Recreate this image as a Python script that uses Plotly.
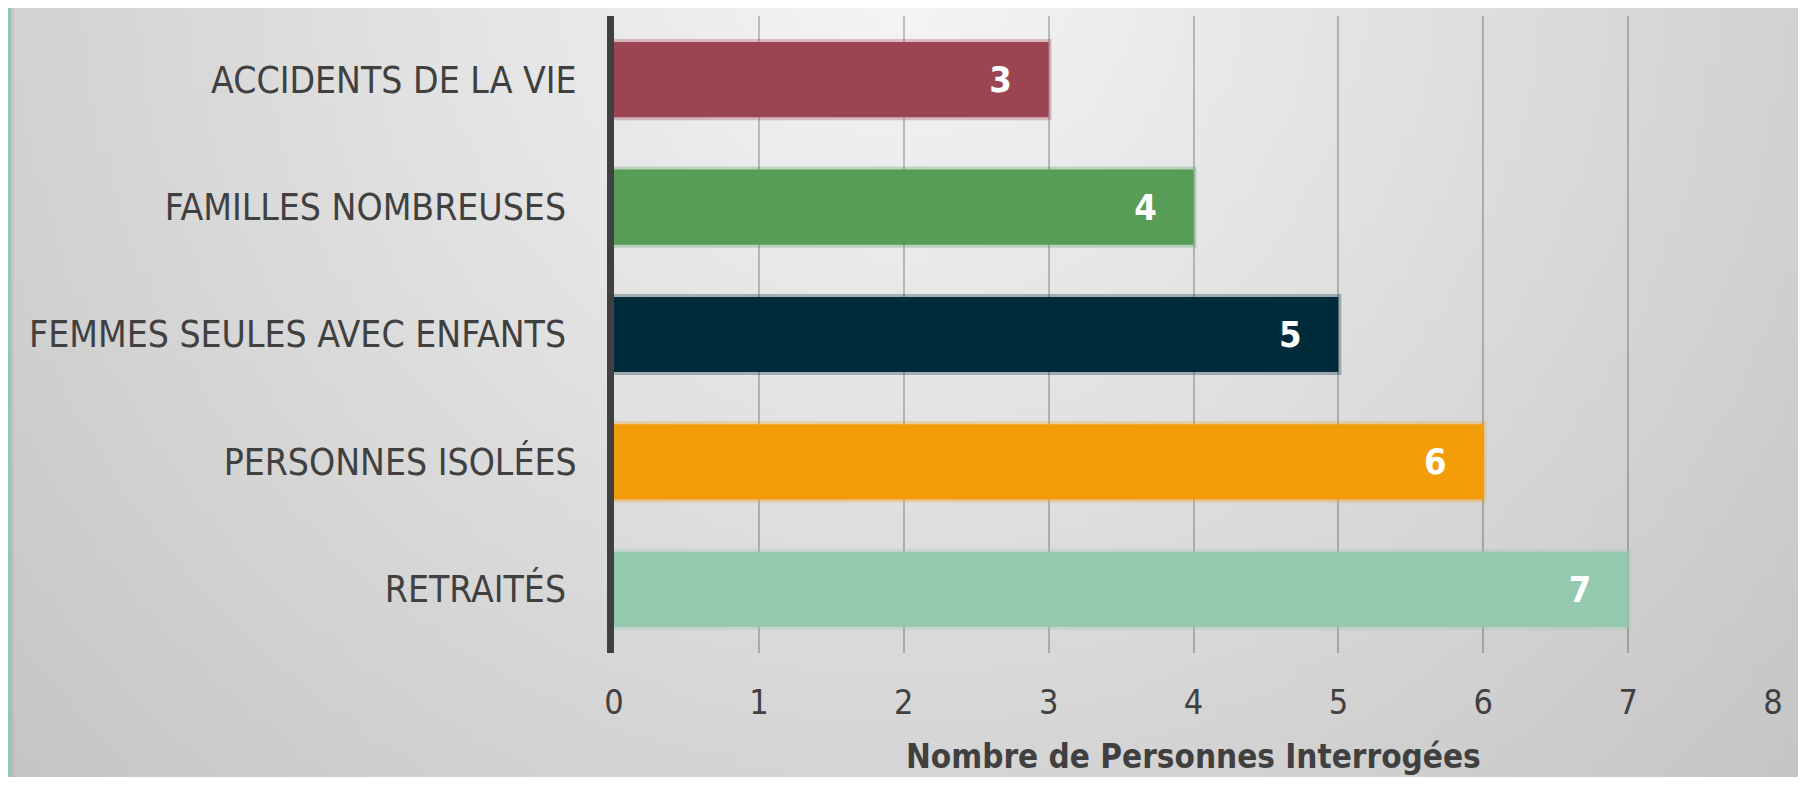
import base64
import math
import struct
import zlib

import plotly.graph_objects as go

# ===== DATA =====
categories = ["ACCIDENTS DE LA VIE", "FAMILLES NOMBREUSES ", "FEMMES SEULES AVEC ENFANTS ",
              "PERSONNES ISOLÉES", "RETRAITÉS "]
values = [3, 4, 5, 6, 7]
bar_colors = ["#9C4452", "#579D57", "#002B3A", "#F39D0B", "#94C9AF"]
x_ticks = [0, 1, 2, 3, 4, 5, 6, 7, 8]
x_title = "Nombre de Personnes Interrogées"

# page has an 8px body margin, so the figure is a bit smaller than the window
PAGE_W, PAGE_H = 1806, 785
OFF = 8
W, H = PAGE_W - 2 * OFF, PAGE_H - 2 * OFF
margin = dict(l=606, r=25, t=8, b=124)
pw = W - margin["l"] - margin["r"]
ph = H - margin["t"] - margin["b"]

font_family = "DejaVu Sans Condensed, Liberation Sans Narrow, Roboto, sans-serif"
text_col = "#404040"


def hex_rgba(hx, a):
    hx = hx.lstrip("#")
    return "rgba(%d,%d,%d,%s)" % (int(hx[0:2], 16), int(hx[2:4], 16), int(hx[4:6], 16), a)


# ===== BACKGROUND GRADIENT (small grey png, stretched) =====
def make_png(w, h, pix):
    raw = b"".join(b"\x00" + bytes(r) for r in pix)

    def chunk(tag, data):
        c = struct.pack(">I", len(data)) + tag + data
        return c + struct.pack(">I", zlib.crc32(tag + data) & 0xffffffff)
    return (b"\x89PNG\r\n\x1a\n" + chunk(b"IHDR", struct.pack(">IIBBBBB", w, h, 8, 0, 0, 0, 0))
            + chunk(b"IDAT", zlib.compress(raw)) + chunk(b"IEND", b""))


gw, gh = 180, 78
pix = []
for j in range(gh):
    row = []
    for i in range(gw):
        px, py = OFF + i * W / (gw - 1), OFF + j * H / (gh - 1)
        d = math.hypot(px - 900, py + 40)
        row.append(int(max(196, min(246, 246 - 0.04 * d))))
    pix.append(row)
bg_src = "data:image/png;base64," + base64.b64encode(make_png(gw, gh, pix)).decode()

# ===== FIGURE =====
fig = go.Figure(go.Bar(
    x=values, y=categories, orientation="h",
    marker=dict(color=bar_colors, line=dict(color=[hex_rgba(c, 0.3) for c in bar_colors], width=6)),
    text=values, texttemplate="%{x}\u00a0\u00a0\u00a0", textposition="inside", insidetextanchor="end",
    textfont=dict(family=font_family, size=36, color="white", weight="bold"),
    cliponaxis=False,
))

x_left = -margin["l"] / pw
y_bot, y_top = -margin["b"] / ph, 1 + margin["t"] / ph

fig.update_layout(
    width=W, height=H, margin=margin,
    paper_bgcolor="#DCDCDC", plot_bgcolor="rgba(0,0,0,0)",
    bargap=0.41, showlegend=False,
    font=dict(family=font_family, color=text_col),
    images=[dict(source=bg_src, xref="paper", yref="paper",
                 x=x_left, y=y_top, sizex=W / pw, sizey=H / ph, sizing="stretch", layer="below")],
    shapes=[
        # green strip on the left edge
        dict(type="rect", xref="paper", yref="paper", layer="above",
             x0=x_left, x1=x_left + 3 / pw, y0=y_bot, y1=y_top,
             fillcolor="#94C9AF", line=dict(width=0)),
        dict(type="rect", xref="paper", yref="paper", layer="above",
             x0=x_left + 3 / pw, x1=x_left + 6 / pw, y0=y_bot, y1=y_top,
             fillcolor="rgba(0,0,0,0.05)", line=dict(width=0)),
    ],
    # x axis title as an annotation, so it can sit lower than plotly puts it
    annotations=[dict(text=x_title, xref="paper", yref="paper", x=0.5, y=-103 / ph,
                      xanchor="center", yanchor="middle", showarrow=False,
                      font=dict(size=33, color=text_col, weight="bold"))],
)

fig.update_xaxes(
    range=[0, 8], tickvals=x_ticks, showgrid=True, gridcolor="rgba(0,0,0,0.22)", gridwidth=2,
    zeroline=False, showline=False, ticks="", ticklabelstandoff=26,
    tickfont=dict(size=34, color=text_col),
    automargin=False,
)
fig.update_yaxes(
    categoryorder="array", categoryarray=categories, autorange="reversed",
    showgrid=False, zeroline=False, showline=True, linecolor=text_col, linewidth=7,
    ticks="", ticklabelstandoff=23, tickfont=dict(size=37, color=text_col),
    automargin=False,
)

fig.write_html("out.html")
